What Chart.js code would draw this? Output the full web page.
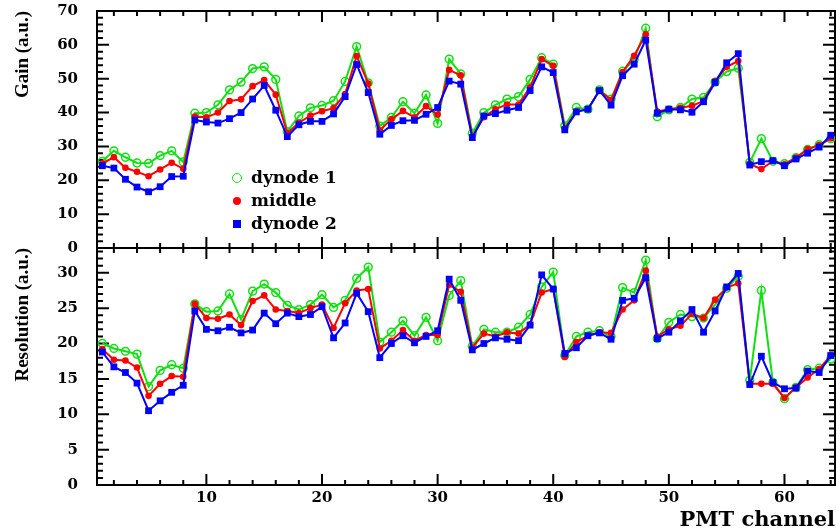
<!DOCTYPE html>
<html>
<head>
<meta charset="utf-8">
<script src="https://cdn.jsdelivr.net/npm/chart.js@4.4.1/dist/chart.umd.min.js"></script>
<style>
  body { margin: 0; background: #fff; }
  #wrap { position: relative; width: 836px; height: 531px; overflow: hidden; background: #fff; }
  #gainCanvas { position: absolute; left: 0; top: 0; }
  #resCanvas { position: absolute; left: 0; top: 236px; }
  .leg { position: absolute; left: 230px; top: 166px; font: bold 17px "DejaVu Serif"; color: #000; }
  .leg div { position: relative; height: 23px; line-height: 23px; padding-left: 21px; white-space: nowrap; }
  .leg span { position: absolute; top: 50%; left: 7px; transform: translate(-50%, -50%); box-sizing: border-box; }
  .m1 { width: 10px; height: 10px; border: 1.6px solid #10e010; border-radius: 50%; }
  .m2 { width: 8px; height: 8px; background: #ff0000; border-radius: 50%; }
  .m3 { width: 8px; height: 8px; background: #0000ff; }
</style>
</head>
<body>
<div id="wrap">
  <canvas id="gainCanvas" width="836" height="260"></canvas>
  <canvas id="resCanvas" width="836" height="295"></canvas>
  <div class="leg">
    <div><span class="m1"></span>dynode 1</div>
    <div><span class="m2"></span>middle</div>
    <div><span class="m3"></span>dynode 2</div>
  </div>
</div>
<script>
// PMT channels 1..64
const channels = Array.from({length: 64}, (_, i) => i + 1);

const gainDynode1 = [25.6, 28.7, 26.8, 25.1, 25.0, 27.3, 28.7, 25.4,
  39.8, 40.0, 42.3, 46.7, 49.0, 53.0, 53.5, 49.8,
  34.4, 39.0, 41.4, 42.1, 43.5, 49.2,
  59.5, 48.8, 36.0, 38.6, 43.2, 39.8, 45.2, 36.8,
  55.8, 51.4, 33.9, 40.0, 42.3, 44.0, 44.7, 49.8, 56.2, 54.3,
  36.1, 41.5, 41.0,
  46.7, 44.0, 52.2, 55.7, 64.9, 38.8, 40.8, 41.5, 44.0, 44.5, 49.0, 52.1, 53.1,
  25.3, 32.3, 25.6, 24.9, 26.7, 29.1, 30.5, 32.3];
const gainMiddle = [25.0, 26.8, 23.7, 22.5, 21.2, 23.2, 25.2, 23.4,
  38.8, 38.6, 40.0, 43.4, 43.9, 47.8, 49.6, 45.3,
  33.9, 37.0, 39.1, 40.4, 41.3, 45.5,
  56.7, 48.6, 34.8, 38.0, 40.5, 38.6, 41.9, 39.4,
  52.6, 51.0, 32.9, 38.6, 41.0, 42.4, 42.4, 47.5, 55.8, 53.8,
  35.3, 40.3, 41.0,
  46.5, 43.7, 52.0, 56.8, 63.1, 40.3, 41.0, 41.4, 42.0, 43.4, 49.3, 53.5, 55.2,
  24.8, 23.3, 25.7, 24.7, 26.7, 29.2, 30.4, 32.4];
const gainDynode2 = [24.3, 23.6, 20.3, 18.0, 16.6, 18.1, 21.1, 21.2,
  37.8, 37.2, 36.9, 38.2, 40.0, 44.0, 48.0, 40.7,
  32.9, 36.4, 37.4, 37.4, 39.6, 44.7,
  54.2, 45.9, 33.6, 36.2, 37.6, 37.7, 39.5, 41.5,
  49.3, 48.4, 32.6, 39.0, 39.7, 40.7, 41.5, 46.5, 53.5, 51.8,
  34.9, 40.2, 41.0,
  46.5, 42.2, 50.9, 54.3, 61.4, 39.8, 41.0, 40.8, 40.1, 43.2, 48.9, 54.7, 57.4,
  24.5, 25.5, 25.8, 24.3, 26.3, 28.0, 29.8, 33.3];

const resDynode1 = [20.0, 19.3, 18.9, 18.5, 13.9, 16.2, 17.0, 16.5,
  25.6, 24.5, 24.6, 27.0, 23.4, 27.4, 28.4, 27.2,
  25.4, 24.8, 25.5, 26.9, 25.1, 26.1,
  29.2, 30.8, 20.2, 21.6, 23.2, 21.1, 23.7, 20.4,
  26.8, 28.9, 19.6, 22.0, 21.6, 21.6, 22.3, 24.1, 28.0, 30.1,
  18.3, 21.0, 21.6,
  21.8, 21.0, 27.9, 27.2, 31.8, 20.7, 23.0, 24.1, 23.8, 23.6, 25.5, 27.8, 29.5,
  14.8, 27.5, 14.5, 12.2, 13.8, 16.3, 16.5, 17.8];
const resMiddle = [19.2, 17.7, 17.6, 16.6, 12.6, 14.3, 15.4, 15.3,
  25.6, 23.6, 23.5, 24.1, 22.6, 26.0, 26.8, 24.8,
  24.6, 24.3, 25.0, 25.5, 22.2, 25.7,
  27.5, 27.7, 19.3, 20.4, 21.9, 20.4, 21.2, 21.2,
  28.3, 27.3, 19.4, 21.4, 21.0, 21.6, 21.4, 22.7, 27.2, 27.7,
  18.1, 20.2, 21.1,
  21.6, 21.5, 24.8, 26.1, 30.3, 21.0, 22.0, 22.5, 24.2, 23.6, 26.2, 27.9, 28.5,
  14.3, 14.3, 14.3, 12.3, 13.8, 15.2, 16.4, 18.3];
const resDynode2 = [18.8, 16.7, 15.9, 14.4, 10.5, 11.9, 13.1, 14.1,
  24.6, 22.0, 21.8, 22.3, 21.5, 21.9, 24.3, 22.8,
  24.3, 23.8, 24.1, 25.2, 20.8, 22.9,
  27.1, 24.5, 18.0, 20.0, 21.1, 20.1, 21.0, 21.8,
  29.1, 26.1, 19.1, 20.0, 20.8, 20.6, 20.4, 22.6, 29.7, 27.7,
  18.6, 19.4, 21.1,
  21.5, 20.6, 26.1, 26.4, 29.3, 20.7, 21.6, 23.2, 24.8, 21.6, 24.6, 28.0, 29.9,
  14.2, 18.2, 14.5, 13.6, 13.7, 16.1, 15.9, 18.3];

const xTicks = [10, 20, 30, 40, 50, 60];
const gainTicks = [0, 10, 20, 30, 40, 50, 60, 70];
const resTicks = [0, 5, 10, 15, 20, 25, 30];

const GREEN = '#10e010', RED = '#ff0000', BLUE = '#0000ff';
const tickFont = {family: 'DejaVu Serif', weight: 'bold', size: 15};
const titleFont = {family: 'Liberation Serif', weight: 'bold', size: 19};

// ROOT-like frame with inward ticks on all four sides
const framePlugin = {
  id: 'frame',
  beforeDatasetsDraw(chart, args, opts) {
    const {ctx, chartArea: a, scales: {x, y}} = chart;
    ctx.save();
    ctx.strokeStyle = '#000';
    ctx.lineWidth = 2;
    ctx.beginPath();
    for (let v = Math.ceil(x.min / opts.xMinor) * opts.xMinor; v <= x.max; v += opts.xMinor) {
      const px = x.getPixelForValue(v);
      const len = v % opts.xMajor === 0 ? 11 : 5;
      ctx.moveTo(px, a.bottom); ctx.lineTo(px, a.bottom - len);
      ctx.moveTo(px, a.top); ctx.lineTo(px, a.top + len);
    }
    for (let v = Math.ceil(y.min / opts.yMinor) * opts.yMinor; v <= y.max; v += opts.yMinor) {
      const py = y.getPixelForValue(v);
      const len = v % opts.yMajor === 0 ? 12 : 6;
      ctx.moveTo(a.left, py); ctx.lineTo(a.left + len, py);
      ctx.moveTo(a.right, py); ctx.lineTo(a.right - len, py);
    }
    ctx.stroke();
    ctx.strokeRect(a.left, a.top, a.right - a.left, a.bottom - a.top);
    ctx.restore();
  }
};

function noScalePadding(s) {
  s.paddingTop = 0; s.paddingBottom = 0; s.paddingLeft = 0; s.paddingRight = 0;
}

function series(label, values, color, style, radius, order) {
  const open = style === 'open';
  return {
    label,
    data: channels.map((c, i) => ({x: c, y: values[i]})),
    borderColor: color,
    borderWidth: 2,
    pointStyle: open ? 'circle' : style,
    pointRadius: radius,
    pointBorderWidth: open ? 1.5 : 0,
    pointBorderColor: color,
    pointBackgroundColor: open ? 'rgba(0,0,0,0)' : color,
    tension: 0,
    order
  };
}

function makeChart(id, d1, mid, d2, yOpts, showX, frameOpts, padding) {
  return new Chart(document.getElementById(id), {
    type: 'line',
    data: {
      datasets: [
        series('dynode 1', d1, GREEN, 'open', 3.9, 3),
        series('middle', mid, RED, 'circle', 3.3, 2),
        series('dynode 2', d2, BLUE, 'rect', 4.8, 1)
      ]
    },
    options: {
      responsive: false,
      animation: false,
      events: [],
      layout: {padding, autoPadding: false},
      plugins: {legend: {display: false}, tooltip: {enabled: false}, frame: frameOpts},
      scales: {
        x: {
          type: 'linear',
          display: showX,
          min: 0.54, max: 64.37,
          afterBuildTicks: s => { s.ticks = xTicks.map(v => ({value: v})); },
          afterFit: s => { noScalePadding(s); if (showX) s.height = 46; },
          grid: {display: false, drawTicks: false},
          border: {display: false},
          ticks: {font: tickFont, color: '#000', padding: 4, maxRotation: 0},
          title: {display: true, text: 'PMT channel', align: 'end', color: '#000',
                  font: {family: 'DejaVu Serif', weight: 'bold', size: 21, lineHeight: 1}, padding: 0}
        },
        y: {
          min: yOpts.min, max: yOpts.max,
          afterBuildTicks: s => { s.ticks = yOpts.ticks.map(v => ({value: v})); },
          afterFit: s => { noScalePadding(s); s.width = 97; },
          grid: {display: false, drawTicks: false},
          border: {display: false},
          ticks: {font: tickFont, color: '#000', padding: 19},
          title: {display: true, text: yOpts.title, align: 'end', color: '#000',
                  font: titleFont, padding: {top: 12, bottom: 0}}
        }
      }
    },
    plugins: [framePlugin]
  });
}

makeChart('gainCanvas', gainDynode1, gainMiddle, gainDynode2,
  {min: 0, max: 70, ticks: gainTicks, title: 'Gain (a.u.)'}, false,
  {xMinor: 2, xMajor: 10, yMinor: 2, yMajor: 10},
  {top: 11, bottom: 12, left: 0, right: 1});

makeChart('resCanvas', resDynode1, resMiddle, resDynode2,
  {min: 0, max: 33.5, ticks: resTicks, title: 'Resolution (a.u.)'}, true,
  {xMinor: 2, xMajor: 10, yMinor: 1, yMajor: 5},
  {top: 12, bottom: 0, left: 0, right: 1});
</script>
</body>
</html>
